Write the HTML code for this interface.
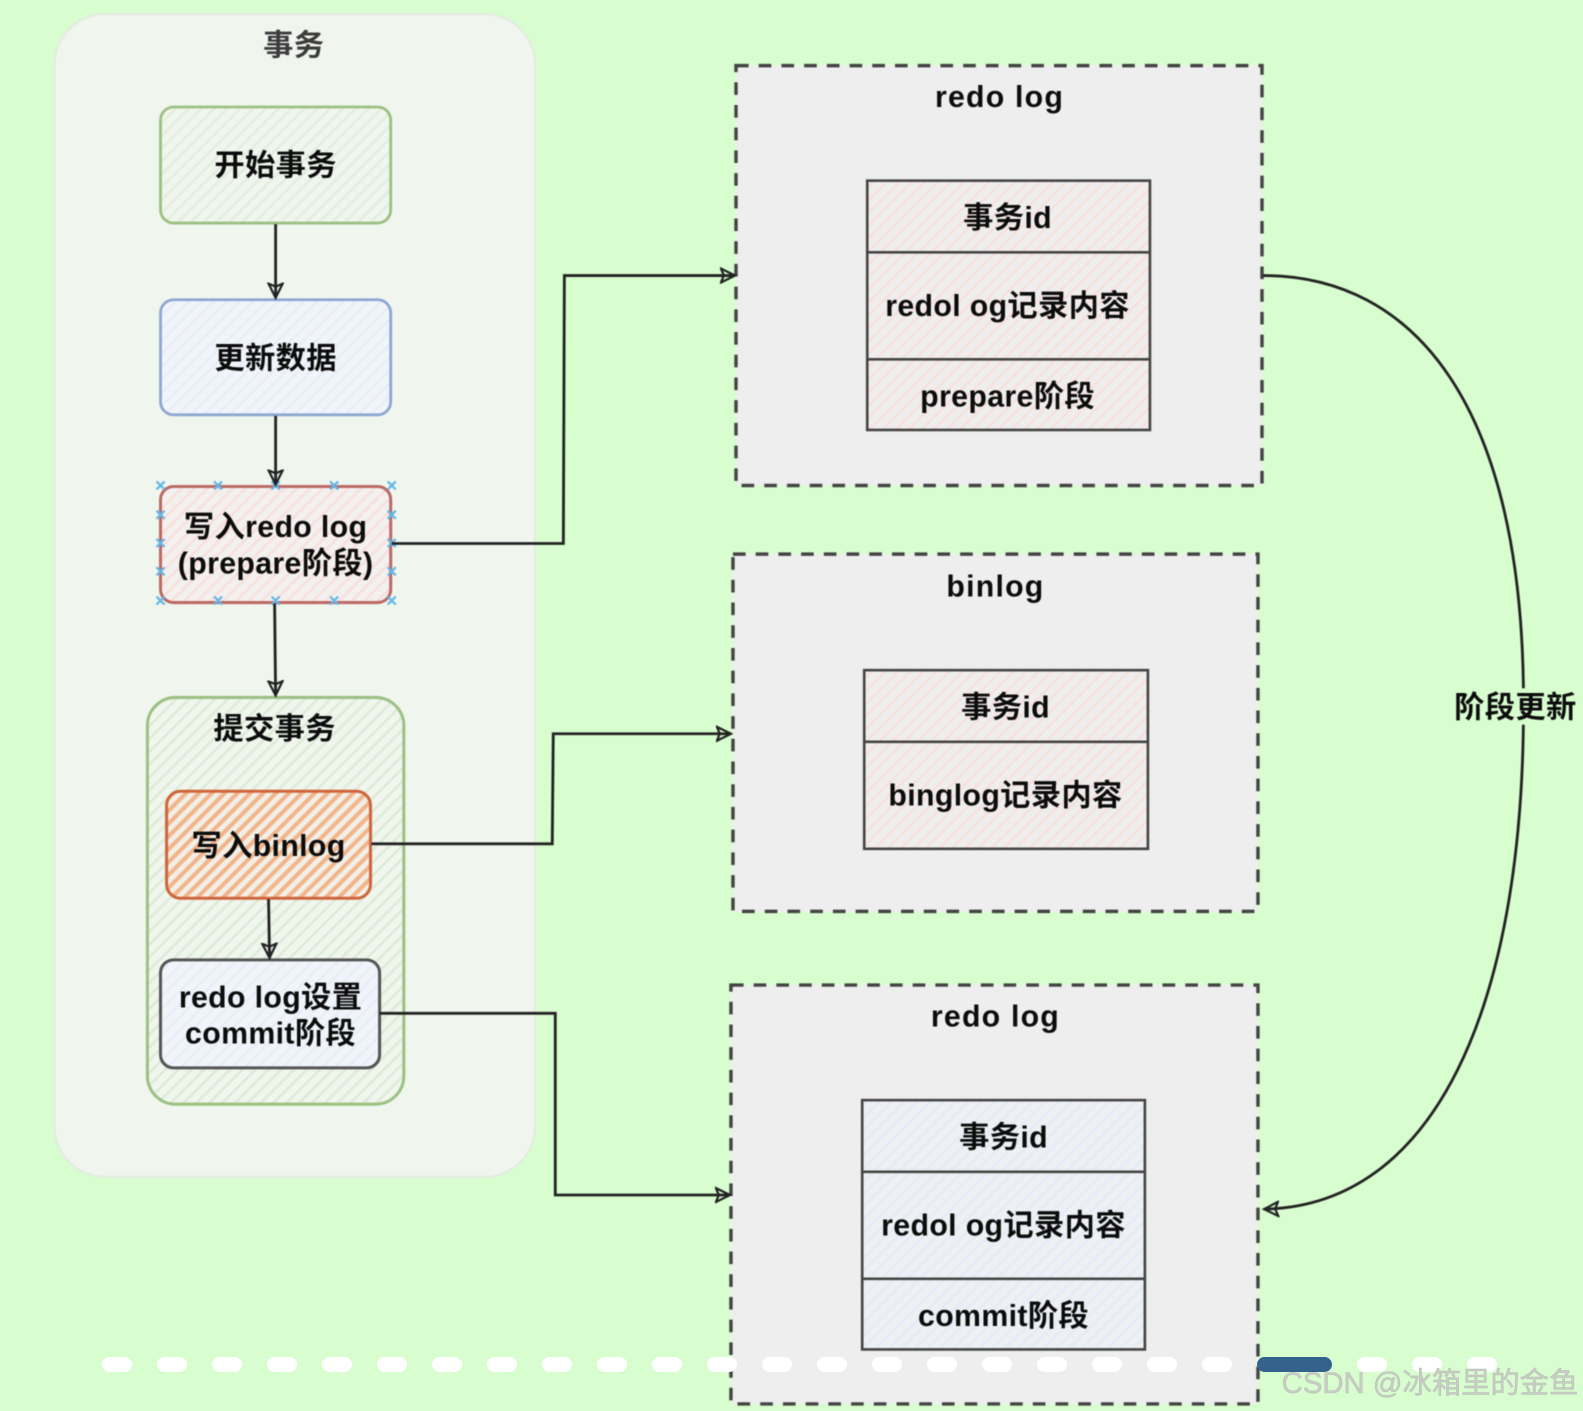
<!DOCTYPE html>
<html>
<head>
<meta charset="utf-8">
<style>
html,body{margin:0;padding:0;background:#d8fed0;width:1583px;height:1411px;overflow:hidden}
svg{display:block;position:absolute;left:0;top:0}
text{font-family:"Liberation Sans","Noto Sans CJK SC",sans-serif;fill:#0c0c0c;text-anchor:middle}
.t{font-size:30px;font-weight:bold;letter-spacing:.35px}
.l{letter-spacing:1.2px}
</style>
</head>
<body>
<svg width="1583" height="1411" viewBox="0 0 1583 1411" xmlns="http://www.w3.org/2000/svg">
<defs>
<pattern id="hg" width="9" height="9" patternUnits="userSpaceOnUse" patternTransform="rotate(45)"><rect width="9" height="9" fill="#f0f6ee"/><rect width="2.5" height="9" fill="#e2eede"/></pattern>
<pattern id="hg2" width="9" height="9" patternUnits="userSpaceOnUse" patternTransform="rotate(45)"><rect width="9" height="9" fill="#f0f6ee"/><rect width="2.5" height="9" fill="#dcebd7"/></pattern>
<pattern id="hb" width="9" height="9" patternUnits="userSpaceOnUse" patternTransform="rotate(45)"><rect width="9" height="9" fill="#f1f5fa"/><rect width="2.5" height="9" fill="#e8eef8"/></pattern>
<pattern id="hr" width="9" height="9" patternUnits="userSpaceOnUse" patternTransform="rotate(45)"><rect width="9" height="9" fill="#f3f1ef"/><rect width="2.5" height="9" fill="#f8dfdc"/></pattern>
<pattern id="ho" width="9" height="9" patternUnits="userSpaceOnUse" patternTransform="rotate(45)"><rect width="9" height="9" fill="#f1efe6"/><rect width="4" height="9" fill="#f2b48a"/></pattern>
<pattern id="hp" width="9" height="9" patternUnits="userSpaceOnUse" patternTransform="rotate(45)"><rect width="9" height="9" fill="#efeeee"/><rect width="2.5" height="9" fill="#f8e0de"/></pattern>
<pattern id="hl" width="9" height="9" patternUnits="userSpaceOnUse" patternTransform="rotate(45)"><rect width="9" height="9" fill="#eef0f3"/><rect width="2.5" height="9" fill="#e4ecf7"/></pattern>
<marker id="a" viewBox="0 0 17 17" refX="15" refY="8.5" markerWidth="17" markerHeight="17" markerUnits="userSpaceOnUse" orient="auto"><path d="M1 1.5 L15 8.5 L1 15.5 L4 8.5 Z" fill="none" stroke="#222" stroke-width="2.2"/></marker>
</defs>
<rect width="1583" height="1411" fill="#d8fed0"/>
<g transform="scale(1.0096 1.0093)" style="filter:blur(.55px)">
<rect x="54" y="14" width="476" height="1152" rx="50" fill="#f0f6ee" stroke="#e3eae1" stroke-width="2"/>
<text class="t" x="291" y="55" style="fill:#3c3c3c">事务</text>

<rect x="159" y="106" width="228" height="115" rx="13" fill="url(#hg)" stroke="#9cc082" stroke-width="2.8"/>
<text class="t" x="273" y="174">开始事务</text>
<rect x="159" y="297" width="228" height="114" rx="13" fill="url(#hb)" stroke="#8ea7d2" stroke-width="2.8"/>
<text class="t" x="273" y="365">更新数据</text>
<rect x="159" y="482" width="228" height="115" rx="13" fill="url(#hr)" stroke="#bb6a66" stroke-width="3"/>
<text class="t" x="273" y="532">写入redo log</text>
<text class="t" x="273" y="568">(prepare阶段)</text>
<g stroke="#62b6e8" stroke-width="2.2" fill="none">
<path d="M155 477l8 8m0-8l-8 8M212 477l8 8m0-8l-8 8M269 477l8 8m0-8l-8 8M327 477l8 8m0-8l-8 8M384 477l8 8m0-8l-8 8"/>
<path d="M155 591l8 8m0-8l-8 8M212 591l8 8m0-8l-8 8M269 591l8 8m0-8l-8 8M327 591l8 8m0-8l-8 8M384 591l8 8m0-8l-8 8"/>
<path d="M155 506l8 8m0-8l-8 8M155 534l8 8m0-8l-8 8M155 562l8 8m0-8l-8 8M384 506l8 8m0-8l-8 8M384 534l8 8m0-8l-8 8M384 562l8 8m0-8l-8 8"/>
</g>

<rect x="146" y="691" width="254" height="403" rx="28" fill="url(#hg2)" stroke="#9cc082" stroke-width="3"/>
<text class="t" x="272" y="732">提交事务</text>
<rect x="165" y="784" width="202" height="106" rx="14" fill="url(#ho)" stroke="#d0643a" stroke-width="3"/>
<text class="t" x="266" y="848">写入binlog</text>
<rect x="159" y="951" width="217" height="107" rx="13" fill="url(#hb)" stroke="#555" stroke-width="3"/>
<text class="t" x="268" y="998">redo log设置</text>
<text class="t" x="268" y="1034">commit阶段</text>

<g fill="#eeeeee" stroke="#444" stroke-width="3.4" stroke-dasharray="12.5 10">
<rect x="729" y="65" width="521" height="416"/>
<rect x="726" y="549" width="520" height="354"/>
<rect x="724" y="976" width="522" height="415"/>
</g>
<text class="t l" x="990" y="106">redo log</text>
<text class="t l" x="986" y="591">binlog</text>
<text class="t l" x="986" y="1017">redo log</text>

<g stroke="#444" stroke-width="2.6">
<rect x="859" y="179" width="280" height="247" fill="url(#hp)"/>
<path d="M859 250H1139M859 356H1139" fill="none"/>
<rect x="856" y="664" width="281" height="177" fill="url(#hp)"/>
<path d="M856 735H1137" fill="none"/>
<rect x="854" y="1090" width="280" height="247" fill="url(#hl)"/>
<path d="M854 1161H1134M854 1267H1134" fill="none"/>
</g>
<text class="t" x="998" y="226">事务id</text>
<text class="t" x="998" y="313">redol og记录内容</text>
<text class="t" x="998" y="403">prepare阶段</text>
<text class="t" x="996" y="711">事务id</text>
<text class="t" x="996" y="798">binglog记录内容</text>
<text class="t" x="994" y="1137">事务id</text>
<text class="t" x="994" y="1224">redol og记录内容</text>
<text class="t" x="994" y="1314">commit阶段</text>

<g fill="none" stroke="#222" stroke-width="2.8">
<path d="M273 222V295" marker-end="url(#a)"/>
<path d="M273 412V480" marker-end="url(#a)"/>
<path d="M272 598L273 689" marker-end="url(#a)"/>
<path d="M266 891L267 949" marker-end="url(#a)"/>
<path d="M388 538.500H558L559 273H728" marker-end="url(#a)"/>
<path d="M368 836H547L548 727H724" marker-end="url(#a)"/>
<path d="M376 1004H550V1184H723" marker-end="url(#a)"/>
<path d="M1251 273C1400 273 1510 400 1509 700C1509 1000 1420 1195 1252 1198" marker-end="url(#a)"/>
</g>
<rect x="1441" y="682" width="122" height="36" fill="#d8fed0"/>
<text class="t" x="1501" y="711">阶段更新</text>
</g>
<g fill="#fff">
<rect x="102" y="1357" width="30" height="15" rx="7.5"/><rect x="157" y="1357" width="30" height="15" rx="7.5"/><rect x="212" y="1357" width="30" height="15" rx="7.5"/><rect x="267" y="1357" width="30" height="15" rx="7.5"/><rect x="322" y="1357" width="30" height="15" rx="7.5"/><rect x="377" y="1357" width="30" height="15" rx="7.5"/><rect x="432" y="1357" width="30" height="15" rx="7.5"/><rect x="487" y="1357" width="30" height="15" rx="7.5"/><rect x="542" y="1357" width="30" height="15" rx="7.5"/><rect x="597" y="1357" width="30" height="15" rx="7.5"/><rect x="652" y="1357" width="30" height="15" rx="7.5"/><rect x="707" y="1357" width="30" height="15" rx="7.5"/><rect x="762" y="1357" width="30" height="15" rx="7.5"/><rect x="817" y="1357" width="30" height="15" rx="7.5"/><rect x="872" y="1357" width="30" height="15" rx="7.5"/><rect x="927" y="1357" width="30" height="15" rx="7.5"/><rect x="982" y="1357" width="30" height="15" rx="7.5"/><rect x="1037" y="1357" width="30" height="15" rx="7.5"/><rect x="1092" y="1357" width="30" height="15" rx="7.5"/><rect x="1147" y="1357" width="30" height="15" rx="7.5"/><rect x="1202" y="1357" width="30" height="15" rx="7.5"/><rect x="1357" y="1357" width="30" height="15" rx="7.5"/><rect x="1412" y="1357" width="30" height="15" rx="7.5"/><rect x="1467" y="1357" width="30" height="15" rx="7.5"/>
</g>
<rect x="1257" y="1357" width="75" height="15" rx="7.5" fill="#35618d"/>
<text x="1430" y="1393" style="font-size:29.3px;fill:#c8cdc5;stroke:#b8bdb5;stroke-width:.5px">CSDN @冰箱里的金鱼</text>
</svg>
</body>
</html>
